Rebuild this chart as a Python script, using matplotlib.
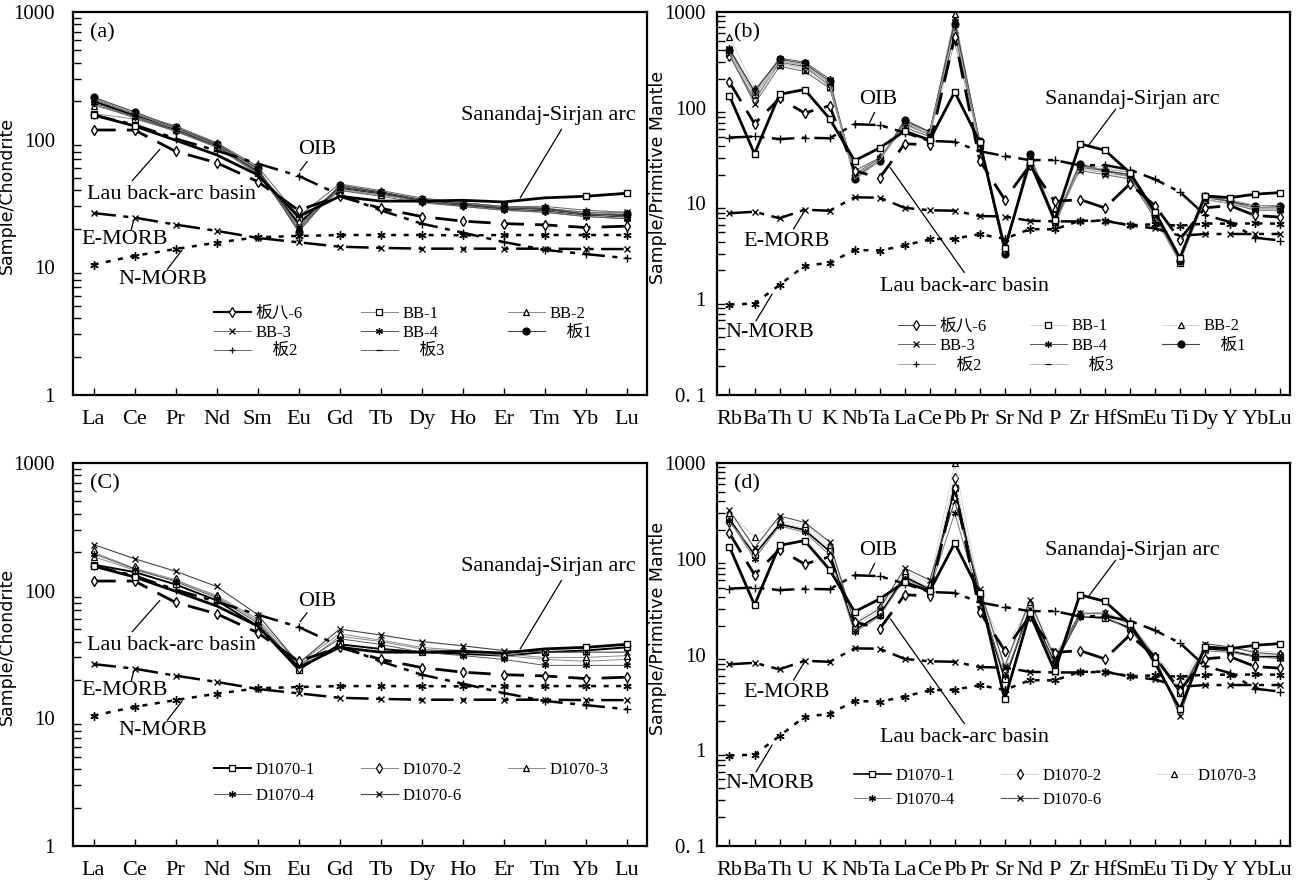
import numpy as np
import matplotlib.pyplot as plt

# =====================================================
# DATA
# =====================================================

ree = ['La', 'Ce', 'Pr', 'Nd', 'Sm', 'Eu', 'Gd', 'Tb', 'Dy', 'Ho', 'Er', 'Tm', 'Yb', 'Lu']
spider = ['Rb', 'Ba', 'Th', 'U', 'K', 'Nb', 'Ta', 'La', 'Ce', 'Pb', 'Pr', 'Sr', 'Nd',
          'P', 'Zr', 'Hf', 'Sm', 'Eu', 'Ti', 'Dy', 'Y', 'Yb', 'Lu']

# reference curves, chondrite normalised
oib_ree = [156, 131, 102, 82, 65, 52, 37, 28, 22, 18.7, 15.8, 13.7, 12.7, 11.8]
emorb_ree = [26.6, 24.5, 21.6, 19.3, 17.0, 15.7, 14.5, 14.2, 14.0, 14.0, 14.0, 14.0, 13.9, 13.9]
nmorb_ree = [10.5, 12.3, 13.9, 15.6, 17.2, 17.6, 17.9, 17.9, 17.9, 17.8, 17.9, 17.9, 17.9, 17.9]
lau_ree = [119, 119, 81, 66, 47, 28, 36, 29, 25, 23, 22, 21.5, 20.5, 21]
ssa_ree = [156, 128, 99, 76, 53, 25, 36, 33, 33, 33.5, 32.5, 35, 36, 38]

# reference curves, primitive mantle normalised
oib_pm = [48.8, 50.1, 47.1, 48.6, 48.0, 67.3, 65.9, 55, 45, 44, 35.1, 31.3, 28.4,
          28.4, 25.0, 25.2, 22.5, 17.9, 13.2, 7.6, 6.4, 4.4, 4.1]
emorb_pm = [7.9, 8.2, 7.0, 8.6, 8.4, 11.6, 11.5, 9.0, 8.5, 8.4, 7.4, 7.3, 6.6,
            6.5, 6.5, 6.6, 5.9, 5.5, 4.6, 4.8, 4.8, 4.8, 4.8]
nmorb_pm = [0.88, 0.9, 1.41, 2.24, 2.4, 3.27, 3.22, 3.64, 4.23, 4.3, 4.78, 4.27, 5.39,
            5.37, 6.6, 6.63, 5.92, 6.07, 5.85, 6.17, 6.15, 6.19, 6.15]
lau_pm = [185, 68, 125, 88, 105, 22, 18.5, 42, 41, 550, 28, 11, 25,
          10.5, 11, 9, 16, 9.5, 4.2, 9, 9.5, 7.5, 7.2]
ssa_pm = [133, 33, 138, 155, 77, 28, 38, 57, 46, 146, 44, 3.4, 27,
          6.7, 42, 36, 21, 8.2, 2.7, 12, 11.5, 12.5, 13]

# samples (a)
a_names = ['板八-6', 'BB-1', 'BB-2', 'BB-3', 'BB-4', '    板1', '    板2', '    板3']
a_vals = [
    [200, 155, 120, 90, 56, 22, 42, 38, 33, 31, 29, 28, 26, 25],
    [160, 145, 118, 88, 55, 24, 40, 37, 33, 32, 30, 29, 27, 26],
    [185, 152, 122, 91, 58, 23, 41, 37, 33, 31, 29, 28, 26, 25],
    [205, 158, 125, 93, 59, 21, 43, 39, 34, 32, 30, 29, 27, 27],
    [195, 150, 118, 89, 56, 20, 42, 38, 33, 30, 28, 27, 25, 24],
    [215, 165, 125, 93, 60, 19, 44, 39, 34, 31, 29, 29, 26, 26],
    [210, 160, 128, 95, 62, 25, 45, 40, 35, 32, 30, 30, 28, 27],
    [190, 148, 116, 87, 54, 21, 40, 36, 32, 30, 28, 27, 25, 24],
]

# samples (b)
b_names = ['板八-6', 'BB-1', 'BB-2', 'BB-3', 'BB-4', '    板1', '    板2', '    板3']
b_vals = [
    [350, 120, 300, 270, 170, 20, 30, 68, 52, 600, 42, 3.2, 30, 6.0, 24, 22, 19, 7.0, 2.6, 11.5, 10.5, 9, 9],
    [380, 140, 280, 250, 165, 19, 29, 65, 50, 500, 40, 3.1, 29, 7.5, 23, 21, 18, 7.2, 2.4, 11, 10, 8.7, 8.7],
    [550, 160, 300, 280, 185, 21, 30, 70, 54, 950, 43, 3.3, 31, 9.0, 25, 24, 21, 8.0, 2.6, 11.5, 11, 9, 9],
    [360, 110, 270, 240, 160, 22, 30, 62, 50, 850, 41, 3.1, 28, 7.0, 22, 20, 18, 7.0, 2.5, 11, 10, 8.5, 8.5],
    [420, 145, 330, 300, 200, 19, 28, 72, 56, 800, 44, 3.0, 32, 6.5, 25, 22, 20, 7.5, 2.5, 12, 10.5, 9, 9.3],
    [400, 150, 320, 290, 190, 18, 28, 75, 56, 750, 45, 3.0, 33, 6.5, 26, 22, 20, 7.5, 2.5, 12, 10.5, 9.5, 9.5],
    [390, 135, 310, 280, 180, 20, 29, 70, 55, 700, 43, 3.2, 31, 7.0, 24, 23, 21, 7.8, 2.5, 11.5, 11, 9.5, 9.5],
    [370, 125, 290, 260, 175, 18, 28, 66, 53, 480, 42, 3.0, 30, 6.0, 23, 21, 19, 7.2, 2.4, 11, 10, 9, 9],
]

# samples (c)
c_names = ['D1070-1', 'D1070-2', 'D1070-3', 'D1070-4', 'D1070-6']
c_vals = [
    [160, 140, 112, 84, 53, 24, 38, 35, 33, 32, 31, 33, 34, 36],
    [200, 150, 122, 90, 58, 25, 44, 40, 35, 33, 31, 29, 28, 29],
    [185, 145, 120, 92, 60, 27, 46, 41, 36, 34, 32, 30, 30, 31],
    [195, 148, 118, 88, 56, 26, 42, 38, 33, 31, 29, 26, 26, 26],
    [230, 178, 142, 108, 65, 27, 50, 45, 40, 37, 34, 33, 33, 33],
]

# samples (d)
d_names = ['D1070-1', 'D1070-2', 'D1070-3', 'D1070-4', 'D1070-6']
d_vals = [
    [260, 110, 230, 200, 120, 18, 26, 65, 48, 550, 40, 5.5, 30, 8.0, 25, 24, 19, 9.5, 4.0, 11.5, 11, 9.5, 9.5],
    [240, 120, 240, 210, 130, 20, 28, 70, 50, 700, 42, 11, 33, 9.5, 26, 26, 20, 9.5, 4.5, 12, 11, 10, 10],
    [300, 170, 250, 230, 140, 22, 32, 75, 55, 1000, 45, 7, 35, 10, 26, 28, 22, 10, 5.0, 12.5, 11.5, 11, 10.5],
    [250, 100, 220, 190, 110, 17, 25, 62, 47, 300, 38, 6, 28, 8, 25, 25, 18, 9, 4.2, 11, 10.5, 9.5, 9],
    [320, 130, 280, 240, 150, 21, 30, 80, 60, 400, 48, 7.5, 37, 9, 27, 27, 21, 9.5, 2.3, 13, 12, 10.5, 10],
]

# =====================================================
# STYLES
# =====================================================

plt.rcParams['font.family'] = ['Liberation Serif', 'Noto Sans CJK SC']
plt.rcParams['axes.linewidth'] = 1.6

AST = (6, 2, 0)
style_a = [
    dict(marker='d', mfc='white', lw=1.6, color='black'),
    dict(marker='s', mfc='white', lw=0.7, color='#8a8a8a'),
    dict(marker='^', mfc='white', lw=0.7, color='#8a8a8a'),
    dict(marker='x', lw=0.7, color='#666666'),
    dict(marker=AST, lw=0.7, color='#555555'),
    dict(marker='o', mfc='black', lw=0.8, color='#444444'),
    dict(marker='+', lw=0.7, color='#666666'),
    dict(marker='_', lw=0.7, color='#666666'),
]
style_b = [
    dict(marker='d', mfc='white', lw=0.8, color='#555555'),
    dict(marker='s', mfc='white', lw=0.5, color='#c8c8c8'),
    dict(marker='^', mfc='white', lw=0.5, color='#c8c8c8'),
    dict(marker='x', lw=0.7, color='#666666'),
    dict(marker=AST, lw=0.7, color='#555555'),
    dict(marker='o', mfc='black', lw=0.8, color='#444444'),
    dict(marker='+', lw=0.6, color='#999999'),
    dict(marker='_', lw=0.6, color='#aaaaaa'),
]
style_c = [
    dict(marker='s', mfc='white', lw=1.4, color='black'),
    dict(marker='d', mfc='white', lw=0.7, color='#8a8a8a'),
    dict(marker='^', mfc='white', lw=0.7, color='#8a8a8a'),
    dict(marker=AST, lw=0.7, color='#555555'),
    dict(marker='x', lw=0.8, color='#444444'),
]
style_d = [
    dict(marker='s', mfc='white', lw=1.2, color='black'),
    dict(marker='d', mfc='white', lw=0.5, color='#c8c8c8'),
    dict(marker='^', mfc='white', lw=0.5, color='#c8c8c8'),
    dict(marker=AST, lw=0.7, color='#777777'),
    dict(marker='x', lw=0.8, color='#555555'),
]


def draw_refs(ax, x, oib, em, nm, lau, ssa):
    ax.plot(x, oib, color='black', lw=1.8, dashes=(9, 3, 2, 3), marker='+', ms=6, mew=1)
    ax.plot(x, em, color='black', lw=1.8, dashes=(9, 3, 2, 3), marker='x', ms=5, mew=1)
    ax.plot(x, nm, color='black', lw=1.8, dashes=(2, 3), marker=AST, ms=6, mew=1)
    ax.plot(x, lau, color='black', lw=2.0, dashes=(8, 4), marker='d', ms=5, mfc='white', mew=1)
    ax.plot(x, ssa, color='black', lw=2.0, marker='s', ms=5, mfc='white', mew=1,
            markevery=[0, 1, 12, 13] if len(x) == 14 else None)


def style_axes(ax, labels, ylim, ylabels, ylabel, letter, ypad, ylab_xy):
    x = np.arange(len(labels))
    ax.set_yscale('log')
    ax.set_ylim(*ylim)
    ax.set_xlim(-0.5, len(labels) - 0.5 if len(labels) == 14 else len(labels) - 0.6)
    ax.set_xticks(x)
    ax.set_xticklabels(labels, fontsize=16)
    ax.tick_params(axis='x', direction='in', length=5, width=1, pad=11, top=False)
    ax.tick_params(axis='y', which='both', direction='in', right=False, width=1)
    ax.tick_params(axis='y', which='major', length=0, labelsize=15, pad=ypad)
    ax.tick_params(axis='y', which='minor', length=6)
    ax.set_yticks([10.0 ** k for k in range(int(round(np.log10(ylim[0]))),
                                            int(round(np.log10(ylim[1]))) + 1)])
    ax.set_yticklabels(ylabels)
    ax.set_ylabel(ylabel, fontsize=12.5, family=['DejaVu Sans'])
    ax.yaxis.set_label_coords(*ylab_xy)
    ax.text(0.03, 0.945, letter, transform=ax.transAxes, fontsize=16, va='center')


def note(ax, text, xy_text, xy_from, xy_to):
    ax.text(xy_text[0], xy_text[1], text, fontsize=16, ha='center', va='center')
    ax.annotate('', xy=xy_to, xytext=xy_from,
                arrowprops=dict(arrowstyle='-', lw=0.9, color='black'))


def column_legends(ax, handles, names, ncol, xs_col, ytop, spacing):
    # one legend per column so the columns sit at fixed positions
    for c in range(ncol):
        idx = list(range(c, len(handles), ncol))
        leg = ax.legend([handles[i] for i in idx], [names[i] for i in idx],
                        loc='upper left', bbox_to_anchor=(xs_col[c], ytop),
                        frameon=False, fontsize=12, handlelength=2.2, handletextpad=0.3,
                        labelspacing=spacing, borderpad=0, borderaxespad=0)
        if c < ncol - 1:
            ax.add_artist(leg)


fig = plt.figure(figsize=(12.97, 8.82), dpi=100)
ax_a = fig.add_axes([0.0563, 0.5522, 0.4426, 0.4342])
ax_b = fig.add_axes([0.5528, 0.5522, 0.4418, 0.4342])
ax_c = fig.add_axes([0.0563, 0.0408, 0.4426, 0.4342])
ax_d = fig.add_axes([0.5528, 0.0408, 0.4418, 0.4342])

xr = np.arange(len(ree))
xs = np.arange(len(spider))

# =====================================================
# (a) and (c): chondrite normalised REE
# =====================================================

for ax, names, vals, styles, letter, lx, ly, lsp in [
        (ax_a, a_names, a_vals, style_a, '(a)', [0.2456, 0.5017, 0.758], 0.232, 0.16),
        (ax_c, c_names, c_vals, style_c, '(C)', [0.2456, 0.5017, 0.758], 0.219, 0.58)]:
    handles = []
    for name, v, st in zip(names, vals, styles):
        h, = ax.plot(xr, v, ms=5, mew=0.9, mec='black', label=name, **st)
        handles.append(h)
    draw_refs(ax, xr, oib_ree, emorb_ree, nmorb_ree, lau_ree, ssa_ree)
    style_axes(ax, ree, (1, 1000), ['1', '10', '100', '1000'], 'Sample/Chondrite', letter,
               13, (-0.100, 0.52))
    note(ax, 'Sanandaj-Sirjan arc', (11.1, 155), (11.45, 126), (10.37, 33.5))
    note(ax, 'OIB', (5.45, 83), (5.25, 70), (5.0, 55))
    note(ax, 'Lau back-arc basin', (1.9, 37), (0.9, 46), (1.66, 87))
    note(ax, 'E-MORB', (0.75, 16.4), (0.9, 18.6), (1.0, 24.7))
    note(ax, 'N-MORB', (1.7, 8.0), (1.76, 9.3), (2.2, 14.2))
    column_legends(ax, handles, names, 3, lx, ly, lsp)

# =====================================================
# (b) and (d): primitive mantle normalised spider
# =====================================================

for ax, names, vals, styles, letter, lx, ly, lsp in [
        (ax_b, b_names, b_vals, style_b, '(b)', [0.316, 0.546, 0.777], 0.200, 0.22),
        (ax_d, d_names, d_vals, style_d, '(d)', [0.239, 0.496, 0.766], 0.203, 0.45)]:
    handles = []
    for name, v, st in zip(names, vals, styles):
        h, = ax.plot(xs, v, ms=5, mew=0.9, mec='black', label=name, **st)
        handles.append(h)
    draw_refs(ax, xs, oib_pm, emorb_pm, nmorb_pm, lau_pm, ssa_pm)
    style_axes(ax, spider, (0.1, 1000), ['0. 1', '1', '10', '100', '1000'],
               'Sample/Primitive Mantle', letter, 8, (-0.087, 0.568))
    note(ax, 'OIB', (5.95, 121), (5.85, 95), (5.55, 66))
    note(ax, 'Sanandaj-Sirjan arc', (16.1, 121), (15.5, 102), (14.3, 39))
    note(ax, 'Lau back-arc basin', (9.4, 1.35), (9.45, 1.8), (6.36, 25))
    note(ax, 'E-MORB', (2.3, 4.0), (2.5, 5.1), (3.0, 8.4))
    note(ax, 'N-MORB', (1.6, 0.45), (1.0, 0.56), (1.76, 1.2))
    column_legends(ax, handles, names, 3, lx, ly, lsp)

fig.savefig('out.png', dpi=100)
